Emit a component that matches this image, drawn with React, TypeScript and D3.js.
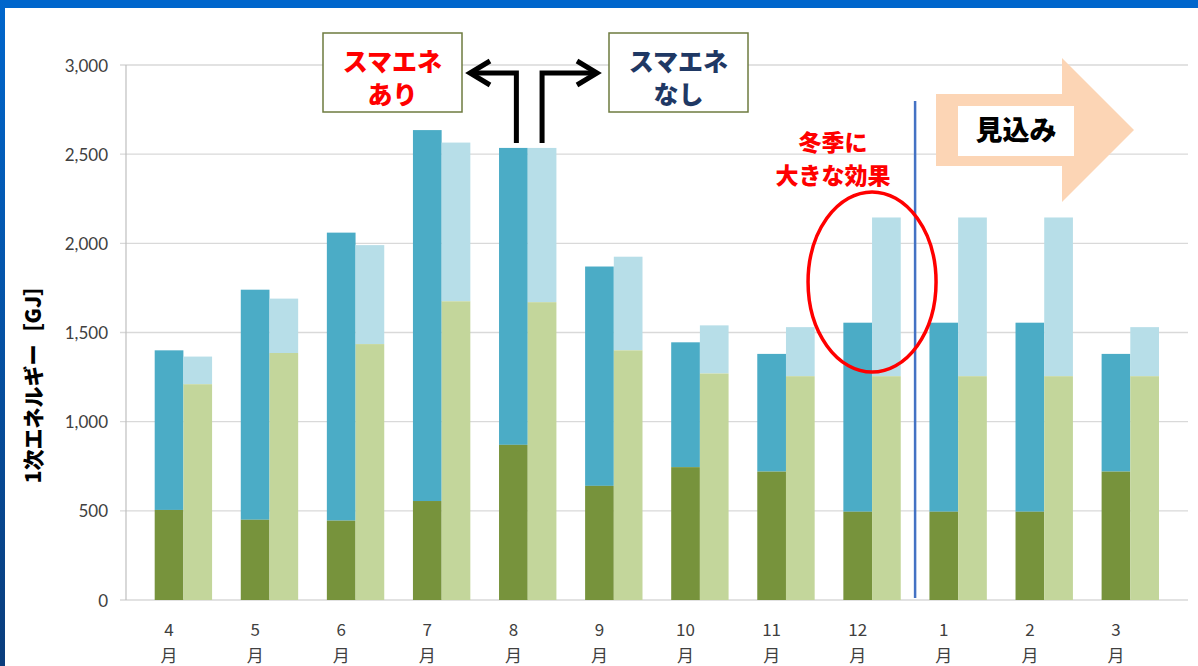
import React from "react";
import * as d3 from "d3";

const months = ["4", "5", "6", "7", "8", "9", "10", "11", "12", "1", "2", "3"];
// スマエネあり (with smart energy): lower part and total
const withBase = [505, 450, 445, 555, 870, 640, 745, 720, 495, 495, 495, 720];
const withTotal = [1400, 1740, 2060, 2635, 2535, 1870, 1445, 1380, 1555, 1555, 1555, 1380];
// スマエネなし (without): lower part and total
const withoutBase = [1210, 1385, 1435, 1675, 1670, 1400, 1270, 1255, 1255, 1255, 1255, 1255];
const withoutTotal = [1365, 1690, 1990, 2565, 2535, 1925, 1540, 1530, 2145, 2145, 2145, 1530];
const yTicks = [0, 500, 1000, 1500, 2000, 2500, 3000];

const W = 1198;
const H = 666;
const JP = "'Noto Sans CJK JP', 'Noto Sans', sans-serif";
const NUM = "Lato, 'Open Sans', sans-serif";

const C_DARK_BLUE = "#4BACC6";
const C_LIGHT_BLUE = "#B7DEE8";
const C_DARK_GREEN = "#77933C";
const C_LIGHT_GREEN = "#C3D69B";

export default function App() {
  const x = d3.scaleBand<string>().domain(months).range([126, 1159]).padding(0);
  const bw = x.bandwidth();
  const y = d3.scaleLinear().domain([0, 3000]).range([600, 65]);
  const center = (m: string) => (x(m) as number) + bw / 2;
  const slot = bw / 3;

  const fmt = d3.format(",");

  const sepX = (center("12") + slot * 1.5 + center("1") - slot / 2) / 2;
  const c8 = center("8");
  const arrowTop = 73;
  const arrowStart = y(withTotal[4]) - 5;
  const leftV = c8 + 3;
  const rightV = c8 + slot;
  const ellCx = center("12") + slot / 2;

  return (
    <svg
      width={W}
      height={H}
      style={{ position: "absolute", left: 0, top: 0, background: "#fff" }}
    >
      <defs>
        <linearGradient id="leftBorder" x1="0" y1="0" x2="0" y2="1">
          <stop offset="0" stopColor="#0066CC" />
          <stop offset="1" stopColor="#0A3D7C" />
        </linearGradient>
      </defs>
      <rect x={0} y={0} width={W} height={H} fill="#fff" />
      <rect x={0} y={0} width={W} height={8} fill="#0066CC" />
      <rect x={0} y={0} width={5} height={H} fill="url(#leftBorder)" />

      {/* gridlines */}
      {yTicks.map((t) => (
        <line
          key={"g" + t}
          x1={120}
          x2={1188}
          y1={y(t)}
          y2={y(t)}
          stroke="#D9D9D9"
          strokeWidth={1.4}
        />
      ))}
      <line x1={126} x2={126} y1={y(3000)} y2={y(0)} stroke="#BFBFBF" strokeWidth={1.2} />

      {/* y tick labels */}
      {yTicks.map((t) => (
        <text
          key={"t" + t}
          x={108}
          y={y(t)}
          textAnchor="end"
          dominantBaseline="central"
          fontFamily={NUM}
          fontSize={17}
          fill="#404040"
        >
          {fmt(t)}
        </text>
      ))}

      {/* bars */}
      {months.map((m, i) => {
        const c = center(m);
        const dx = c - slot / 2;
        const lx = c + slot / 2;
        return (
          <g key={"b" + m}>
            <rect x={dx} y={y(withTotal[i])} width={slot} height={y(withBase[i]) - y(withTotal[i])} fill={C_DARK_BLUE} />
            <rect x={dx} y={y(withBase[i])} width={slot} height={y(0) - y(withBase[i])} fill={C_DARK_GREEN} />
            <rect x={lx} y={y(withoutTotal[i])} width={slot} height={y(withoutBase[i]) - y(withoutTotal[i])} fill={C_LIGHT_BLUE} />
            <rect x={lx} y={y(withoutBase[i])} width={slot} height={y(0) - y(withoutBase[i])} fill={C_LIGHT_GREEN} />
          </g>
        );
      })}

      {/* x labels */}
      {months.map((m) => (
        <g key={"x" + m} fontFamily={JP} fontSize={17} fill="#404040" textAnchor="middle">
          <text x={center(m)} y={636}>{m}</text>
          <text x={center(m)} y={662}>月</text>
        </g>
      ))}

      {/* y title */}
      <text
        transform={`translate(41,379) rotate(-90)`}
        textAnchor="middle"
        fontFamily={JP}
        fontWeight={900}
        fontSize={21}
        fill="#000"
      >
        1次エネルギー［GJ］
      </text>

      {/* separator */}
      <line x1={sepX} x2={sepX} y1={101} y2={598} stroke="#4472C4" strokeWidth={2.5} />

      {/* labels boxes */}
      <rect x={323} y={33} width={139} height={79} fill="#fff" stroke="#6E7B3F" strokeWidth={1.5} />
      <text x={392.5} y={71} textAnchor="middle" fontFamily={JP} fontWeight={900} fontSize={25} fill="#FF0000">
        スマエネ
      </text>
      <text x={392.5} y={104} textAnchor="middle" fontFamily={JP} fontWeight={900} fontSize={25} fill="#FF0000">
        あり
      </text>
      <rect x={609} y={33} width={139} height={79} fill="#fff" stroke="#6E7B3F" strokeWidth={1.5} />
      <text x={678.5} y={71} textAnchor="middle" fontFamily={JP} fontWeight={900} fontSize={25} fill="#1F3864">
        スマエネ
      </text>
      <text x={678.5} y={104} textAnchor="middle" fontFamily={JP} fontWeight={900} fontSize={25} fill="#1F3864">
        なし
      </text>

      {/* arrows */}
      <g fill="none" stroke="#000" strokeWidth={5} strokeLinejoin="miter">
        <polyline points={`${leftV},${arrowStart} ${leftV},${arrowTop} ${472},${arrowTop}`} />
        <polyline points={`490,61 470,${arrowTop} 490,85`} />
        <polyline points={`${rightV},${arrowStart} ${rightV},${arrowTop} ${595},${arrowTop}`} />
        <polyline points={`577,61 597,${arrowTop} 577,85`} />
      </g>

      {/* winter annotation */}
      <text x={833} y={151} textAnchor="middle" fontFamily={JP} fontWeight={900} fontSize={23} fill="#FF0000">
        冬季に
      </text>
      <text x={833} y={184} textAnchor="middle" fontFamily={JP} fontWeight={900} fontSize={23} fill="#FF0000">
        大きな効果
      </text>
      <ellipse cx={ellCx} cy={282} rx={64} ry={90} fill="none" stroke="#FF0000" strokeWidth={3.5} />

      {/* forecast arrow */}
      <polygon
        points="936,94 1062,94 1062,58 1134,130 1062,202 1062,166 936,166"
        fill="#FCD5B5"
      />
      <rect x={958} y={106} width={116} height={50} fill="#fff" />
      <text x={1016} y={140} textAnchor="middle" fontFamily={JP} fontWeight={900} fontSize={27} fill="#000">
        見込み
      </text>
    </svg>
  );
}
